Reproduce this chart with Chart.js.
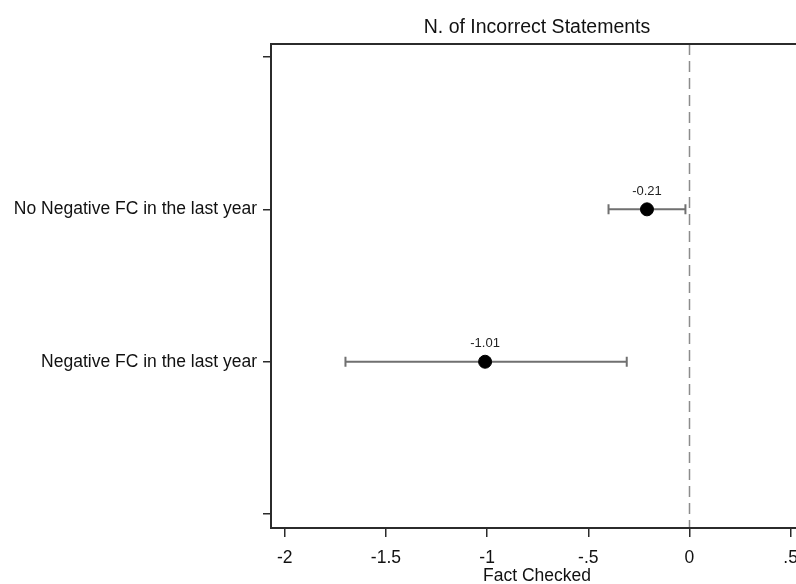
<!DOCTYPE html>
<html>
<head>
<meta charset="utf-8">
<script src="https://cdn.jsdelivr.net/npm/chart.js@4.4.1/dist/chart.umd.min.js"></script>
<style>
  html, body { margin: 0; padding: 0; background: #fff; overflow: hidden; }
  #wrap { width: 796px; height: 584px; overflow: hidden; position: relative; }
  canvas { display: block; }
</style>
</head>
<body>
<div id="wrap"><canvas id="c" width="840" height="584"></canvas></div>
<script>
// Groups (rows of the coefficient plot), point estimates and 95% CI bounds
const groups = ["No Negative FC in the last year", "Negative FC in the last year"];
const estimates = [-0.21, -1.01];
const ciLow = [-0.40, -1.70];
const ciHigh = [-0.02, -0.31];
const valueLabels = ["-0.21", "-1.01"];

// Axis ticks
const xTicks = [-2, -1.5, -1, -0.5, 0, 0.5];
const xTickLabels = ["-2", "-1.5", "-1", "-.5", "0", ".5"];
const yTicks = [0, 1, 2, 3];
const yTickLabels = ["", groups[0], groups[1], ""];

const titleText = "N. of Incorrect Statements";
const xTitle = "Fact Checked";

const FONT = "'Liberation Sans', Arial, sans-serif";

const points = estimates.map((v, i) => ({ x: v, y: i + 1 }));

const coefPlot = {
  id: 'coefPlot',
  beforeDatasetsDraw(chart) {
    const { ctx, chartArea: a, scales: { x, y } } = chart;
    ctx.save();
    // reference line at zero
    ctx.strokeStyle = '#8c8c8c';
    ctx.lineWidth = 1.5;
    ctx.setLineDash([11, 6]);
    const x0 = Math.round(x.getPixelForValue(0)) + 0.5;
    ctx.beginPath();
    ctx.moveTo(x0, a.top);
    ctx.lineTo(x0, a.bottom);
    ctx.stroke();
    ctx.setLineDash([]);
    // confidence intervals with end caps
    ctx.strokeStyle = '#707070';
    ctx.lineWidth = 2;
    for (let i = 0; i < estimates.length; i++) {
      const yp = y.getPixelForValue(i + 1);
      const xl = x.getPixelForValue(ciLow[i]);
      const xh = x.getPixelForValue(ciHigh[i]);
      ctx.beginPath();
      ctx.moveTo(xl, yp); ctx.lineTo(xh, yp);
      ctx.moveTo(xl, yp - 5); ctx.lineTo(xl, yp + 5);
      ctx.moveTo(xh, yp - 5); ctx.lineTo(xh, yp + 5);
      ctx.stroke();
    }
    ctx.restore();
  },
  afterDatasetsDraw(chart) {
    const { ctx, chartArea: a, scales: { x, y } } = chart;
    ctx.save();
    // value labels above markers
    ctx.fillStyle = '#222';
    ctx.font = "13px " + FONT;
    ctx.textAlign = 'center';
    ctx.textBaseline = 'middle';
    for (let i = 0; i < estimates.length; i++) {
      ctx.fillText(valueLabels[i], x.getPixelForValue(estimates[i]), y.getPixelForValue(i + 1) - 18);
    }
    // plot frame (top edge; right edge lies outside the view)
    ctx.strokeStyle = '#2b2b2b';
    ctx.lineWidth = 2;
    ctx.strokeRect(a.left, a.top, a.right - a.left, a.bottom - a.top);
    // title centred over the plot region
    ctx.fillStyle = '#111';
    ctx.font = "19.5px " + FONT;
    ctx.textBaseline = 'alphabetic';
    ctx.fillText(titleText, (a.left + a.right) / 2, 33);
    ctx.restore();
  }
};

new Chart(document.getElementById('c'), {
  type: 'scatter',
  data: {
    datasets: [{
      data: points,
      pointRadius: 6.5,
      pointHoverRadius: 6.5,
      pointBackgroundColor: '#000',
      pointBorderColor: '#000',
      pointBorderWidth: 1
    }]
  },
  options: {
    responsive: false,
    animation: false,
    events: [],
    layout: { padding: { top: 44, right: 37, left: 0, bottom: 0 } },
    plugins: { legend: { display: false }, tooltip: { enabled: false }, title: { display: false } },
    scales: {
      x: {
        type: 'linear',
        min: -2.068,
        max: 0.561,
        afterBuildTicks(s) { s.ticks = xTicks.map(v => ({ value: v })); },
        afterFit(s) { s.height = 56; },
        ticks: {
          autoSkip: false,
          maxRotation: 0,
          padding: 11,
          color: '#111',
          font: { family: FONT, size: 17.5 },
          callback(v) { const i = xTicks.indexOf(v); return i >= 0 ? xTickLabels[i] : ''; }
        },
        grid: { drawOnChartArea: false, drawTicks: true, tickLength: 9, color: '#2b2b2b', lineWidth: 1.5 },
        border: { display: true, color: '#2b2b2b', width: 2 },
        title: {
          display: true,
          text: xTitle,
          color: '#111',
          font: { family: FONT, size: 17.5 },
          padding: { top: 0, bottom: -3 }
        }
      },
      y: {
        type: 'linear',
        reverse: true,
        min: -0.085,
        max: 3.091,
        afterBuildTicks(s) { s.ticks = yTicks.map(v => ({ value: v })); },
        afterFit(s) { s.width = 271; },
        ticks: {
          autoSkip: false,
          padding: 6,
          color: '#111',
          font: { family: FONT, size: 17.5 },
          callback(v) { const i = yTicks.indexOf(v); return i >= 0 ? yTickLabels[i] : ''; }
        },
        grid: { drawOnChartArea: false, drawTicks: true, tickLength: 8, color: '#2b2b2b', lineWidth: 1.5 },
        border: { display: true, color: '#2b2b2b', width: 2 }
      }
    }
  },
  plugins: [coefPlot]
});
</script>
</body>
</html>
